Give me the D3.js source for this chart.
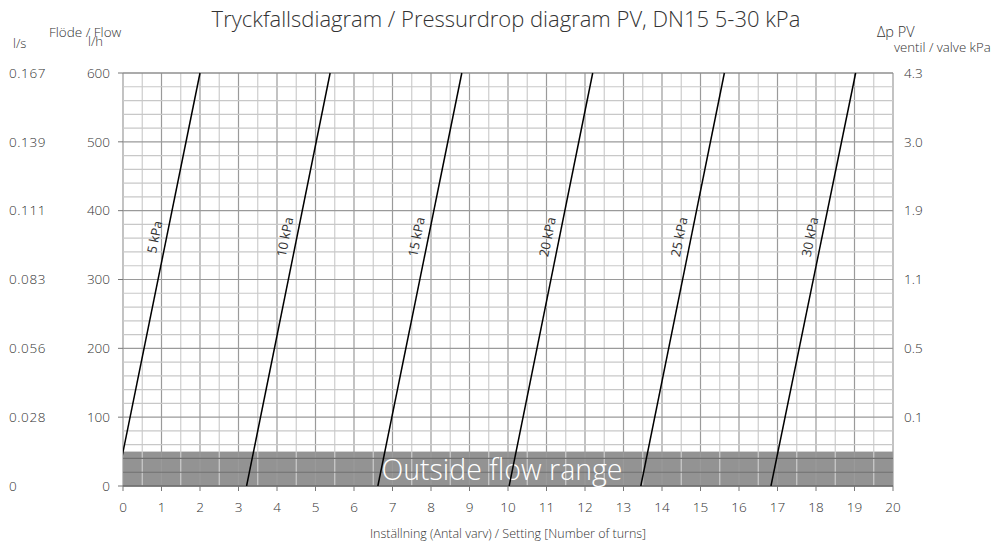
<!DOCTYPE html>
<html><head><meta charset="utf-8">
<script src="https://cdn.jsdelivr.net/npm/d3@7"></script>
<style>body{margin:0;background:#fff}svg{display:block;font-family:"Open Sans","Noto Sans",sans-serif}</style>
</head><body><svg id="c" width="999" height="544"></svg>
<script>
const pressureLabels = ["5 kPa","10 kPa","15 kPa","20 kPa","25 kPa","30 kPa"];
const settingAtZeroFlow = [-0.18, 3.21, 6.62, 10.03, 13.45, 16.83];
const settingAtMaxFlow  = [2.0, 5.38, 8.80, 12.2, 15.62, 19.03];
const flowTicks = [0,100,200,300,400,500,600];
const lsLabels = ["0","0.028","0.056","0.083","0.111","0.139","0.167"];
const kpaLabels = ["","0.1","0.5","1.1","1.9","3.0","4.3"];
const settingTicks = d3.range(0,21);
const outsideRangeFlow = 50;
const labelFlow = 360;

const svg = d3.select("#c");
const x = d3.scaleLinear().domain([0,20]).range([123,893]);
const y = d3.scaleLinear().domain([0,600]).range([486,73]);
const txt = "#333";

svg.append("rect").attr("x",x(0)).attr("y",y(outsideRangeFlow)).attr("width",x(20)-x(0)).attr("height",y(0)-y(outsideRangeFlow)).attr("fill","#939393");

const g = svg.append("g");
d3.range(0,20.01,0.5).forEach(v=>{
  const major = Math.abs(v-Math.round(v))<1e-6;
  g.append("line").attr("x1",x(v)).attr("x2",x(v)).attr("y1",y(600)).attr("y2",y(0))
   .attr("stroke",major?"#9a9a9a":"#cdcdcd").attr("stroke-width",1.2);
});
d3.range(0,601,20).forEach(v=>{
  const major = v%100===0;
  const inBand = v<outsideRangeFlow && v>0;
  g.append("line").attr("x1",x(0)).attr("x2",x(20)).attr("y1",y(v)).attr("y2",y(v))
   .attr("stroke",inBand?"#707070":(major?"#9a9a9a":"#c8c8c8")).attr("stroke-width",1.2);
});
svg.append("line").attr("x1",x(0)).attr("x2",x(20)).attr("y1",y(0)).attr("y2",y(0)).attr("stroke","#6a6a6a").attr("stroke-width",1.5);
svg.append("line").attr("x1",x(0)).attr("x2",x(20)).attr("y1",y(600)).attr("y2",y(600)).attr("stroke","#8a8a8a").attr("stroke-width",1.2);

svg.append("text").attr("x",502).attr("y",480).attr("text-anchor","middle").attr("fill","#fff").attr("font-size",28.5).attr("font-weight",300).text("Outside flow range");

svg.append("clipPath").attr("id","cp").append("rect").attr("x",x(0)).attr("y",y(600)-1).attr("width",x(20)-x(0)).attr("height",y(0)-y(600)+1);
const lg = svg.append("g").attr("clip-path","url(#cp)");
pressureLabels.forEach((lab,i)=>{
  lg.append("line").attr("x1",x(settingAtZeroFlow[i])).attr("y1",y(0)).attr("x2",x(settingAtMaxFlow[i])).attr("y2",y(600))
    .attr("stroke","#000").attr("stroke-width",1.5);
  const s = settingAtZeroFlow[i] + (settingAtMaxFlow[i]-settingAtZeroFlow[i])*labelFlow/600;
  const ang = Math.atan2(y(600)-y(0), x(settingAtMaxFlow[i])-x(settingAtZeroFlow[i]))*180/Math.PI;
  svg.append("text").attr("transform",`translate(${x(s)-6},${y(labelFlow)}) rotate(${ang})`)
    .attr("text-anchor","middle").attr("font-size",13).attr("fill",txt).attr("dy","-0.1em").text(lab);
});

const tk = (sel)=>sel.attr("font-size",13.5).attr("font-weight",300).attr("fill",txt);
flowTicks.forEach((f,i)=>{
  svg.append("line").attr("x1",118).attr("x2",123).attr("y1",y(f)).attr("y2",y(f)).attr("stroke","#777");
  tk(svg.append("text").attr("x",110).attr("y",y(f)).attr("dy","0.35em").attr("text-anchor","end")).text(f);
  tk(svg.append("text").attr("x",9).attr("y",y(f)).attr("dy","0.35em").attr("text-anchor","start").attr("letter-spacing",0.6)).text(lsLabels[i]);
  tk(svg.append("text").attr("x",904).attr("y",y(f)).attr("dy","0.35em").attr("text-anchor","start")).text(kpaLabels[i]);
});
settingTicks.forEach(t=>{
  svg.append("line").attr("x1",x(t)).attr("x2",x(t)).attr("y1",486).attr("y2",491).attr("stroke","#777");
  tk(svg.append("text").attr("x",x(t)).attr("y",507).attr("dy","0.35em").attr("text-anchor","middle")).text(t);
});

svg.append("text").attr("x",506).attr("y",27).attr("text-anchor","middle").attr("font-size",22).attr("font-weight",300).attr("fill",txt).text("Tryckfallsdiagram / Pressurdrop diagram PV, DN15 5-30 kPa");
const lb = (sel,fs)=>sel.attr("font-size",fs).attr("font-weight",300).attr("fill",txt);
lb(svg.append("text").attr("x",13).attr("y",48),13).text("l/s");
lb(svg.append("text").attr("x",49).attr("y",37),13.5).text("Flöde / Flow");
lb(svg.append("text").attr("x",88).attr("y",46),13).text("l/h");
lb(svg.append("text").attr("x",877).attr("y",37),14.5).text("Δp PV");
lb(svg.append("text").attr("x",894).attr("y",52),13.2).text("ventil / valve kPa");
lb(svg.append("text").attr("x",508).attr("y",538).attr("text-anchor","middle"),12.5).text("Inställning (Antal varv) / Setting [Number of turns]");
</script></body></html>
